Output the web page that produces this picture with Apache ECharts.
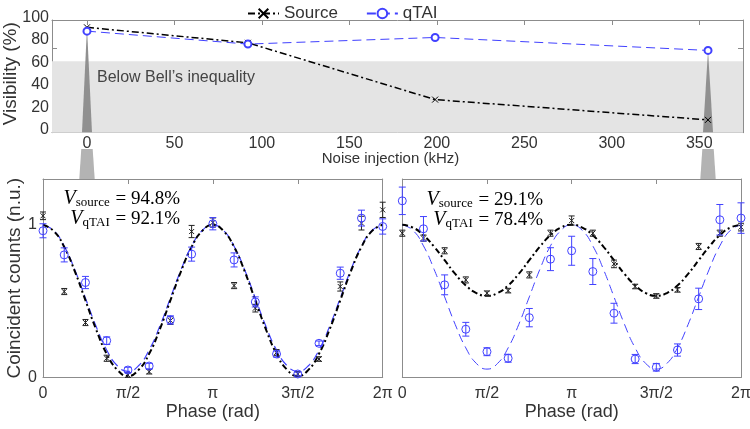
<!DOCTYPE html>
<html>
<head>
<meta charset="utf-8">
<script src="https://cdn.jsdelivr.net/npm/echarts@6/dist/echarts.min.js"></script>
<style>
  html, body { margin: 0; padding: 0; background: #fff; }
  #chart { width: 750px; height: 429px; }
</style>
</head>
<body>
<div id="chart"></div>
<script>
// top panel: visibility vs noise injection
const noiseKHz = [0, 92, 199, 355]
const visSource = [94.8, 83.8, 43.5, 29.1]
const visQtai = [92.1, 82.9, 87.6, 78.4]
const bellLimit = 70.7
const noiseTicks = [0, 50, 100, 150, 200, 250, 300, 350]
const visTickLabels = [0, 20, 40, 60, 80, 100]

// bottom panels: phase points are k * pi/8, fit curves sampled at k * pi/16
const phaseTickLabels = ['0', 'π/2', 'π', '3π/2', '2π']
const leftSource = [1.059, 0.563, 0.360, 0.126, 0.016, 0.038, 0.373, 0.956, 1.015, 0.602, 0.454, 0.163, 0.023, 0.121, 0.596, 1.011, 1.098]
const leftSourceErr = [0.025, 0.02, 0.02, 0.02, 0.015, 0.015, 0.025, 0.04, 0.03, 0.02, 0.025, 0.02, 0.015, 0.015, 0.03, 0.045, 0.05]
const leftQtai = [0.961, 0.803, 0.622, 0.241, 0.049, 0.075, 0.377, 0.808, 1.007, 0.770, 0.495, 0.154, 0.023, 0.224, 0.683, 1.044, 0.989]
const leftQtaiErr = [0.046, 0.046, 0.04, 0.025, 0.018, 0.018, 0.027, 0.046, 0.04, 0.046, 0.033, 0.02, 0.013, 0.015, 0.04, 0.052, 0.05]
const rightSource = [0.945, 0.913, 0.830, 0.639, 0.552, 0.569, 0.672, 0.945, 1.028, 0.945, 0.744, 0.596, 0.534, 0.574, 0.858, 0.945, 0.985]
const rightSourceErr = [0.02, 0.02, 0.02, 0.02, 0.015, 0.015, 0.02, 0.02, 0.03, 0.02, 0.025, 0.015, 0.015, 0.015, 0.02, 0.02, 0.025]
const rightQtai = [1.157, 0.974, 0.607, 0.316, 0.169, 0.126, 0.392, 0.775, 0.830, 0.694, 0.421, 0.121, 0.067, 0.180, 0.515, 1.033, 1.044]
const rightQtaiErr = [0.09, 0.08, 0.065, 0.045, 0.026, 0.026, 0.06, 0.075, 0.095, 0.085, 0.065, 0.03, 0.025, 0.04, 0.07, 0.1, 0.1]

const leftSourceFit = [1.00, 0.96, 0.855, 0.695, 0.505, 0.315, 0.155, 0.05, 0.01, 0.05, 0.155, 0.315, 0.505, 0.695, 0.855, 0.96, 1.00,
  0.96, 0.855, 0.695, 0.505, 0.315, 0.155, 0.05, 0.01, 0.05, 0.155, 0.315, 0.505, 0.695, 0.855, 0.96, 1.00]
const leftQtaiFit = [1.00, 0.963, 0.86, 0.705, 0.52, 0.335, 0.18, 0.077, 0.04, 0.077, 0.18, 0.335, 0.52, 0.705, 0.86, 0.963, 1.00,
  0.963, 0.86, 0.705, 0.52, 0.335, 0.18, 0.077, 0.04, 0.077, 0.18, 0.335, 0.52, 0.705, 0.86, 0.963, 1.00]
const rightSourceFit = [1.00, 0.982, 0.932, 0.857, 0.768, 0.678, 0.603, 0.553, 0.535, 0.553, 0.603, 0.678, 0.768, 0.857, 0.932, 0.982, 1.00,
  0.982, 0.932, 0.857, 0.768, 0.678, 0.603, 0.553, 0.535, 0.553, 0.603, 0.678, 0.768, 0.857, 0.932, 0.982, 1.00]
const rightQtaiFit = [1.00, 0.964, 0.862, 0.709, 0.528, 0.347, 0.194, 0.092, 0.055, 0.092, 0.194, 0.347, 0.528, 0.709, 0.862, 0.964, 1.00,
  0.964, 0.862, 0.709, 0.528, 0.347, 0.194, 0.092, 0.055, 0.092, 0.194, 0.347, 0.528, 0.709, 0.862, 0.964, 1.00]

const FONT = 'Liberation Sans'
const BOX = '#8c8c8c'
const TXT = '#333'
const BLUE = '#4141ff'
const BLACK = '#000'
const PI = Math.PI

const chart = echarts.init(document.getElementById('chart'))

const points = (vals, errs) => vals.map((v, k) => [k * PI / 8, v, errs[k]])
const fitLine = vals => vals.map((v, k) => [k * PI / 16, v])

// error bar + marker drawn by a custom series
function errRender (kind, color) {
  return function (params, api) {
    const x = api.value(0)
    const v = api.value(1)
    const e = api.value(2)
    const p = api.coord([x, v])
    const lo = api.coord([x, v - e])
    const hi = api.coord([x, v + e])
    const cap = kind === 'circle' ? 3.5 : 3
    const st = () => ({ stroke: color, lineWidth: 1, fill: null })
    const children = [
      { type: 'line', shape: { x1: p[0], y1: lo[1], x2: p[0], y2: hi[1] }, style: st() },
      { type: 'line', shape: { x1: p[0] - cap, y1: lo[1], x2: p[0] + cap, y2: lo[1] }, style: st() },
      { type: 'line', shape: { x1: p[0] - cap, y1: hi[1], x2: p[0] + cap, y2: hi[1] }, style: st() }
    ]
    if (kind === 'circle') {
      children.push({ type: 'circle', shape: { cx: p[0], cy: p[1], r: 4 }, style: { stroke: color, fill: 'rgba(0,0,0,0)', lineWidth: 1 } })
    } else {
      children.push({ type: 'line', shape: { x1: p[0] - 2.5, y1: p[1] - 2.5, x2: p[0] + 2.5, y2: p[1] + 2.5 }, style: st() })
      children.push({ type: 'line', shape: { x1: p[0] - 2.5, y1: p[1] + 2.5, x2: p[0] + 2.5, y2: p[1] - 2.5 }, style: st() })
    }
    return { type: 'group', children: children }
  }
}

const tickStyle = { show: true, inside: true, length: 5, lineStyle: { color: BOX } }
const lineBox = { show: true, onZero: false, lineStyle: { color: BOX, width: 1 } }
const labelStyle = { color: TXT, fontFamily: FONT, fontSize: 16 }

function phaseAxis (gridIndex, pos, withLabel) {
  return {
    type: 'value',
    gridIndex: gridIndex,
    position: pos,
    min: 0,
    max: 2 * PI,
    interval: PI / 2,
    axisLine: lineBox,
    axisTick: Object.assign({}, tickStyle, { show: pos === 'top' }),
    splitLine: { show: false },
    axisLabel: withLabel ? Object.assign({}, labelStyle, { margin: 8, formatter: (val, i) => phaseTickLabels[i] }) : { show: false },
    name: withLabel ? 'Phase (rad)' : '',
    nameLocation: 'middle',
    nameGap: 26,
    nameMoveOverlap: false,
    nameTextStyle: { color: TXT, fontFamily: FONT, fontSize: 18 }
  }
}

function countAxis (gridIndex, pos, withLabel, name) {
  return {
    type: 'value',
    gridIndex: gridIndex,
    position: pos,
    min: 0,
    max: 1.3,
    axisLine: lineBox,
    axisTick: { show: false },
    splitLine: { show: false },
    axisLabel: withLabel ? Object.assign({}, labelStyle, { margin: 6, customValues: [0, 1] }) : { show: false },
    name: name || '',
    nameLocation: 'middle',
    nameGap: 19,
    nameMoveOverlap: false,
    nameTextStyle: { color: TXT, fontFamily: FONT, fontSize: 19 }
  }
}

const option = {
  animation: false,
  backgroundColor: '#fff',
  legend: {
    data: ['Source', 'qTAI'],
    left: 242,
    top: 0,
    itemWidth: 31,
    itemHeight: 12,
    itemGap: 28,
    textStyle: { color: TXT, fontFamily: FONT, fontSize: 17 }
  },
  grid: [
    { left: 52, top: 20, width: 691, height: 112.7, outerBoundsMode: 'none' },
    { left: 43, top: 179, width: 339.7, height: 198.5, outerBoundsMode: 'none' },
    { left: 402.3, top: 179, width: 338.7, height: 198.5, outerBoundsMode: 'none' },
    { left: 52, top: 17.5, width: 691, height: 112.5, outerBoundsMode: 'none' }
  ],
  xAxis: [
    {
      type: 'value', gridIndex: 0, position: 'bottom', min: -20, max: 375,
      axisLine: lineBox,
      axisTick: Object.assign({}, tickStyle, { customValues: noiseTicks }),
      axisLabel: Object.assign({}, labelStyle, { margin: 3, customValues: noiseTicks }),
      splitLine: { show: false },
      name: 'Noise injection (kHz)', nameLocation: 'middle', nameGap: 19, nameMoveOverlap: false,
      nameTextStyle: { color: TXT, fontFamily: FONT, fontSize: 15, padding: [0, 14, 0, 0] }
    },
    {
      type: 'value', gridIndex: 0, position: 'top', min: -20, max: 375,
      axisLine: lineBox,
      axisTick: Object.assign({}, tickStyle, { customValues: noiseTicks }),
      axisLabel: { show: false },
      splitLine: { show: false }
    },
    phaseAxis(1, 'bottom', true),
    phaseAxis(1, 'top', false),
    phaseAxis(2, 'bottom', true),
    phaseAxis(2, 'top', false),
    { type: 'value', gridIndex: 3, show: false, min: 0, max: 1 }
  ],
  yAxis: [
    {
      type: 'value', gridIndex: 0, position: 'left', min: 20, max: 100,
      axisLine: lineBox,
      axisTick: Object.assign({}, tickStyle, { customValues: [40, 60, 80] }),
      axisLabel: { show: false },
      splitLine: { show: false }
    },
    {
      type: 'value', gridIndex: 0, position: 'right', min: 20, max: 100,
      axisLine: lineBox,
      axisTick: Object.assign({}, tickStyle, { customValues: [40, 60, 80] }),
      axisLabel: { show: false },
      splitLine: { show: false }
    },
    countAxis(1, 'left', true, 'Coincident counts (n.u.)'),
    countAxis(1, 'right', false),
    countAxis(2, 'left', false),
    countAxis(2, 'right', false),
    {
      type: 'value', gridIndex: 3, position: 'left', min: 0, max: 100, interval: 20,
      axisLine: { show: false },
      axisTick: { show: false },
      splitLine: { show: false },
      axisLabel: Object.assign({}, labelStyle, { margin: 3, customValues: visTickLabels }),
      name: 'Visibility (%)', nameLocation: 'middle', nameGap: 32, nameMoveOverlap: false,
      nameTextStyle: { color: TXT, fontFamily: FONT, fontSize: 19 }
    }
  ],
  series: [
    {
      name: 'bell',
      type: 'line',
      xAxisIndex: 0,
      yAxisIndex: 0,
      data: [],
      z: 1,
      silent: true,
      markArea: {
        silent: true,
        itemStyle: { color: '#e4e4e4' },
        label: {
          show: true,
          position: 'insideTopLeft',
          offset: [40, 3],
          color: '#444',
          fontFamily: FONT,
          fontSize: 16
        },
        data: [[{ yAxis: bellLimit, name: 'Below Bell’s inequality' }, { yAxis: 20 }]]
      }
    },
    {
      name: 'Source',
      type: 'line',
      xAxisIndex: 0,
      yAxisIndex: 0,
      z: 4,
      data: noiseKHz.map((x, i) => [x, visSource[i]]),
      symbol: 'path://M0,0L10,10M10,0L0,10',
      symbolSize: 6,
      itemStyle: { color: BLACK, borderColor: BLACK, borderWidth: 1 },
      lineStyle: { color: BLACK, width: 1.5, type: [7, 3, 2, 3] }
    },
    {
      name: 'qTAI',
      type: 'line',
      xAxisIndex: 0,
      yAxisIndex: 0,
      z: 4,
      data: noiseKHz.map((x, i) => [x, visQtai[i]]),
      symbol: 'emptyCircle',
      symbolSize: 7,
      itemStyle: { color: BLUE, borderColor: BLUE, borderWidth: 1 },
      lineStyle: { color: BLUE, width: 1, type: [9, 5] }
    },
    // left panel
    {
      name: 'fitQ1', type: 'line', xAxisIndex: 2, yAxisIndex: 2, data: fitLine(leftQtaiFit),
      showSymbol: false, smooth: true, z: 3, lineStyle: { color: BLUE, width: 1.2, type: [9, 5] }
    },
    {
      name: 'fitS1', type: 'line', xAxisIndex: 2, yAxisIndex: 2, data: fitLine(leftSourceFit),
      showSymbol: false, smooth: true, z: 3, lineStyle: { color: BLACK, width: 2, type: [6, 3, 2, 3] }
    },
    { name: 'ptS1', type: 'custom', xAxisIndex: 2, yAxisIndex: 2, z: 5, renderItem: errRender('cross', '#222'), data: points(leftSource, leftSourceErr) },
    { name: 'ptQ1', type: 'custom', xAxisIndex: 2, yAxisIndex: 2, z: 5, renderItem: errRender('circle', BLUE), data: points(leftQtai, leftQtaiErr) },
    // right panel
    {
      name: 'fitQ2', type: 'line', xAxisIndex: 4, yAxisIndex: 4, data: fitLine(rightQtaiFit),
      showSymbol: false, smooth: true, z: 3, lineStyle: { color: BLUE, width: 1, type: [9, 5] }
    },
    {
      name: 'fitS2', type: 'line', xAxisIndex: 4, yAxisIndex: 4, data: fitLine(rightSourceFit),
      showSymbol: false, smooth: true, z: 3, lineStyle: { color: BLACK, width: 2, type: [6, 3, 2, 3] }
    },
    { name: 'ptS2', type: 'custom', xAxisIndex: 4, yAxisIndex: 4, z: 5, renderItem: errRender('cross', '#222'), data: points(rightSource, rightSourceErr) },
    { name: 'ptQ2', type: 'custom', xAxisIndex: 4, yAxisIndex: 4, z: 5, renderItem: errRender('circle', BLUE), data: points(rightQtai, rightQtaiErr) }
  ]
}

chart.setOption(option)

// projection wedges from the top panel down to the phase panels
function wedge (apex, yBottom, yTop2, yEnd) {
  const cx = apex[0]
  return [
    { type: 'polygon', z: 2, silent: true, shape: { points: [[cx, apex[1]], [cx + 5, yBottom], [cx - 5, yBottom]] }, style: { fill: '#909090' } },
    { type: 'polygon', z: 2, silent: true, shape: { points: [[cx - 5.7, yTop2], [cx + 5.7, yTop2], [cx + 7.7, yEnd], [cx - 7.7, yEnd]] }, style: { fill: '#b3b3b3' } }
  ]
}

const topBottom = chart.convertToPixel({ yAxisIndex: 0 }, 20)
const lowTop = chart.convertToPixel({ yAxisIndex: 2 }, 1.3)
const apexLeft = chart.convertToPixel({ xAxisIndex: 0, yAxisIndex: 0 }, [noiseKHz[0], visSource[0]])
const apexRight = chart.convertToPixel({ xAxisIndex: 0, yAxisIndex: 0 }, [noiseKHz[3], visQtai[3]])

const annot = (x, y, sub, val) => ({
  type: 'text',
  z: 6,
  x: x,
  y: y,
  style: {
    text: '{v|V}{s|' + sub + '}{n| = ' + val + '%}',
    align: 'right',
    verticalAlign: 'middle',
    rich: {
      v: { fontFamily: 'Liberation Serif', fontStyle: 'italic', fontSize: 20, fill: BLACK, verticalAlign: 'bottom', lineHeight: 22 },
      s: { fontFamily: 'Liberation Serif', fontSize: 13, fill: BLACK, verticalAlign: 'bottom', lineHeight: 22, padding: [0, 1, 0, 0] },
      n: { fontFamily: 'Liberation Serif', fontSize: 19, fill: BLACK, verticalAlign: 'bottom', lineHeight: 22 }
    }
  }
})

chart.setOption({
  graphic: [
    ...wedge(apexLeft, topBottom - 0.5, 149, lowTop),
    ...wedge(apexRight, topBottom - 0.5, 149, lowTop),
    annot(180, 198, 'source', visSource[0]),
    annot(180, 218, 'qTAI', visQtai[0]),
    annot(543, 199, 'source', visSource[3]),
    annot(543, 219, 'qTAI', visQtai[3])
  ]
})
</script>
</body>
</html>
